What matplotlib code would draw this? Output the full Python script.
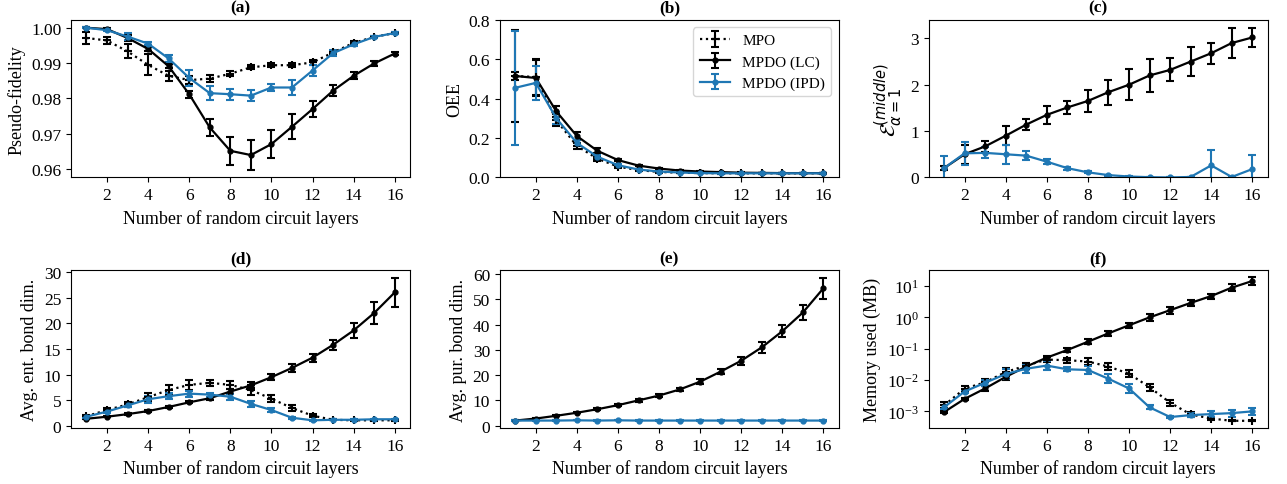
import numpy as np
import matplotlib
matplotlib.use("Agg")
import matplotlib.pyplot as plt

plt.rcParams['font.family'] = ['Liberation Serif', 'DejaVu Serif']
plt.rcParams['font.size'] = 12
plt.rcParams['xtick.labelsize'] = 12.5
plt.rcParams['ytick.labelsize'] = 12.5
plt.rcParams['axes.labelsize'] = 13
plt.rcParams['axes.titlesize'] = 12.5
plt.rcParams['legend.fontsize'] = 11

layers = np.arange(1, 17)

# (a) Pseudo-fidelity
fid_mpo = [0.9971, 0.9964, 0.9933, 0.9895, 0.9864, 0.9852, 0.9856, 0.9870, 0.9888, 0.9894, 0.9894, 0.9902, 0.9930, 0.9957, 0.9974, 0.9985]
fid_mpo_err = [0.0018, 0.0010, 0.0020, 0.0030, 0.0015, 0.0012, 0.0010, 0.0007, 0.0006, 0.0006, 0.0005, 0.0007, 0.0005, 0.0005, 0.0003, 0.0003]
fid_lc = [1.0000, 0.9996, 0.9971, 0.9940, 0.9891, 0.9812, 0.9718, 0.9652, 0.9640, 0.9671, 0.9720, 0.9770, 0.9822, 0.9864, 0.9899, 0.9927]
fid_lc_err = [0.0002, 0.0003, 0.0008, 0.0006, 0.0006, 0.0010, 0.0025, 0.0040, 0.0043, 0.0040, 0.0035, 0.0022, 0.0015, 0.0010, 0.0008, 0.0005]
fid_ipd = [1.0000, 0.9993, 0.9975, 0.9955, 0.9913, 0.9858, 0.9815, 0.9812, 0.9808, 0.9831, 0.9831, 0.9879, 0.9928, 0.9953, 0.9974, 0.9985]
fid_ipd_err = [0.0002, 0.0003, 0.0010, 0.0005, 0.0010, 0.0022, 0.0020, 0.0015, 0.0015, 0.0010, 0.0020, 0.0015, 0.0008, 0.0005, 0.0003, 0.0003]

# (b) OEE
oee_mpo = [0.515, 0.510, 0.290, 0.160, 0.095, 0.055, 0.037, 0.028, 0.024, 0.022, 0.021, 0.021, 0.021, 0.021, 0.021, 0.021]
oee_mpo_err = [0.235, 0.090, 0.030, 0.015, 0.010, 0.006, 0.004, 0.003, 0.002, 0.002, 0.002, 0.002, 0.002, 0.002, 0.002, 0.002]
oee_lc = [0.515, 0.505, 0.335, 0.210, 0.135, 0.088, 0.060, 0.045, 0.035, 0.030, 0.027, 0.024, 0.023, 0.022, 0.022, 0.022]
oee_lc_err = [0.020, 0.090, 0.030, 0.020, 0.012, 0.006, 0.004, 0.003, 0.003, 0.002, 0.002, 0.002, 0.002, 0.002, 0.002, 0.002]
oee_ipd = [0.455, 0.480, 0.300, 0.175, 0.105, 0.062, 0.040, 0.030, 0.025, 0.022, 0.021, 0.021, 0.021, 0.021, 0.021, 0.021]
oee_ipd_err = [0.290, 0.085, 0.030, 0.015, 0.010, 0.006, 0.004, 0.003, 0.002, 0.002, 0.002, 0.002, 0.002, 0.002, 0.002, 0.002]

# (c) entanglement entropy (middle)
ent_lc = [0.20, 0.50, 0.67, 0.90, 1.14, 1.35, 1.51, 1.65, 1.84, 2.00, 2.20, 2.32, 2.50, 2.68, 2.90, 3.02]
ent_lc_err = [0.05, 0.20, 0.12, 0.20, 0.12, 0.19, 0.14, 0.24, 0.27, 0.34, 0.35, 0.25, 0.31, 0.23, 0.33, 0.20]
ent_ipd = [0.20, 0.52, 0.53, 0.50, 0.47, 0.34, 0.20, 0.11, 0.05, 0.02, 0.005, 0.0, 0.01, 0.26, 0.01, 0.18]
ent_ipd_err = [0.27, 0.25, 0.12, 0.20, 0.10, 0.05, 0.03, 0.02, 0.01, 0.005, 0.002, 0.0, 0.005, 0.33, 0.005, 0.30]

# (d) average entanglement bond dimension
ebd_mpo = [1.9, 3.1, 4.2, 5.6, 7.0, 8.0, 8.4, 8.0, 7.0, 5.3, 3.5, 2.0, 1.2, 1.1, 1.1, 1.1]
ebd_mpo_err = [0.3, 0.4, 0.5, 0.8, 0.9, 1.0, 0.6, 0.8, 1.0, 0.7, 0.5, 0.3, 0.1, 0.1, 0.1, 0.1]
ebd_lc = [1.4, 1.8, 2.3, 2.9, 3.7, 4.6, 5.4, 6.7, 7.9, 9.5, 11.3, 13.3, 15.8, 18.6, 22.0, 26.0]
ebd_lc_err = [0.1, 0.1, 0.2, 0.2, 0.2, 0.2, 0.3, 0.4, 0.6, 0.6, 0.8, 0.8, 1.0, 1.4, 2.1, 2.9]
ebd_ipd = [1.8, 2.8, 4.0, 5.2, 5.8, 6.3, 6.1, 5.7, 4.3, 3.1, 1.6, 1.1, 1.2, 1.2, 1.3, 1.3]
ebd_ipd_err = [0.2, 0.3, 0.3, 0.7, 0.6, 0.6, 0.4, 0.6, 0.6, 0.4, 0.2, 0.1, 0.1, 0.1, 0.1, 0.1]

# (e) average purification bond dimension
pbd_lc = [2.0, 2.8, 3.9, 5.1, 6.5, 8.1, 10.0, 11.9, 14.3, 17.4, 21.4, 25.7, 31.0, 37.4, 44.8, 54.4]
pbd_lc_err = [0.1, 0.2, 0.2, 0.3, 0.3, 0.4, 0.5, 0.6, 0.7, 0.9, 1.1, 1.6, 2.2, 2.5, 3.1, 4.2]
pbd_ipd = [2.0, 2.0, 2.0, 2.1, 2.0, 2.1, 2.0, 2.0, 2.0, 2.0, 2.0, 2.0, 2.0, 2.0, 2.0, 2.0]
pbd_ipd_err = [0.05] * 16

# (f) memory used (MB)
mem_mpo = [1.55e-3, 5.3e-3, 8.5e-3, 1.8e-2, 2.9e-2, 4.5e-2, 4.3e-2, 3.9e-2, 2.7e-2, 1.6e-2, 5.9e-3, 1.9e-3, 8.0e-4, 5.9e-4, 5.0e-4, 5.0e-4]
mem_mpo_rel = [0.25, 0.2, 0.3, 0.3, 0.25, 0.2, 0.2, 0.25, 0.3, 0.3, 0.3, 0.25, 0.2, 0.1, 0.05, 0.05]
mem_lc = [9.5e-4, 2.5e-3, 5.4e-3, 1.26e-2, 2.7e-2, 5.2e-2, 9.1e-2, 0.167, 0.31, 0.56, 1.0, 1.7, 2.9, 4.8, 8.9, 14.5]
mem_lc_rel = [0.1, 0.1, 0.2, 0.25, 0.2, 0.15, 0.15, 0.2, 0.2, 0.2, 0.3, 0.3, 0.25, 0.2, 0.3, 0.35]
mem_ipd = [1.35e-3, 4.3e-3, 8.2e-3, 1.55e-2, 2.3e-2, 2.9e-2, 2.2e-2, 2.1e-2, 1.1e-2, 5.4e-3, 1.35e-3, 6.6e-4, 7.6e-4, 8.2e-4, 8.8e-4, 1.0e-3]
mem_ipd_rel = [0.15, 0.15, 0.25, 0.45, 0.35, 0.4, 0.15, 0.35, 0.4, 0.4, 0.15, 0.1, 0.15, 0.25, 0.3, 0.3]

BLUE = '#1f77b4'
xlabel = 'Number of random circuit layers'

fig, axes = plt.subplots(2, 3, figsize=(12.87, 4.85), dpi=100)
plt.subplots_adjust(left=0.0552, right=0.985, bottom=0.1155, top=0.957, wspace=0.2646, hspace=0.59)

ekw = dict(capsize=3, elinewidth=1.5, capthick=1.5, lw=1.6)


def plot_mpo(ax, y, e):
    return ax.errorbar(layers, y, yerr=e, color='black', ls=':', marker='+', ms=6, mew=1.5, label='MPO', **ekw)


def plot_lc(ax, y, e):
    return ax.errorbar(layers, y, yerr=e, color='black', ls='-', marker='.', ms=7, label='MPDO (LC)', **ekw)


def plot_ipd(ax, y, e):
    return ax.errorbar(layers, y, yerr=e, color=BLUE, ls='-', marker='.', ms=7, label='MPDO (IPD)', **ekw)


def mem_err(vals, rel):
    v = np.array(vals)
    r = np.array(rel)
    return np.vstack([v - v / (1 + r), v * r])


# (a)
ax = axes[0, 0]
plot_mpo(ax, fid_mpo, fid_mpo_err)
plot_lc(ax, fid_lc, fid_lc_err)
plot_ipd(ax, fid_ipd, fid_ipd_err)
ax.set_ylabel('Pseudo-fidelity')
ax.set_title('(a)', fontweight='bold')
ax.set_yticks([0.96, 0.97, 0.98, 0.99, 1.00])
ax.yaxis.set_major_formatter(matplotlib.ticker.FormatStrFormatter('%.2f'))

# (b)
ax = axes[0, 1]
plot_mpo(ax, oee_mpo, oee_mpo_err)
plot_lc(ax, oee_lc, oee_lc_err)
plot_ipd(ax, oee_ipd, oee_ipd_err)
ax.set_ylim(0, 0.8)
ax.set_ylabel('OEE')
ax.set_title('(b)', fontweight='bold')
ax.legend(loc='upper right')

# (c)
ax = axes[0, 2]
plot_lc(ax, ent_lc, ent_lc_err)
plot_ipd(ax, ent_ipd, ent_ipd_err)
ax.set_ylim(0, 3.4)
ax.set_yticks([0, 1, 2, 3])
ax.set_ylabel(r'$\mathcal{E}_{\alpha=1}^{(middle)}$', fontsize=15)
ax.set_title('(c)', fontweight='bold')

# (d)
ax = axes[1, 0]
plot_mpo(ax, ebd_mpo, ebd_mpo_err)
plot_lc(ax, ebd_lc, ebd_lc_err)
plot_ipd(ax, ebd_ipd, ebd_ipd_err)
ax.set_ylabel('Avg. ent. bond dim.')
ax.set_title('(d)', fontweight='bold')
ax.set_yticks([0, 5, 10, 15, 20, 25, 30])

# (e)
ax = axes[1, 1]
plot_lc(ax, pbd_lc, pbd_lc_err)
plot_ipd(ax, pbd_ipd, pbd_ipd_err)
ax.set_ylabel('Avg. pur. bond dim.')
ax.set_title('(e)', fontweight='bold')
ax.set_yticks([0, 10, 20, 30, 40, 50, 60])

# (f)
ax = axes[1, 2]
plot_mpo(ax, mem_mpo, mem_err(mem_mpo, mem_mpo_rel))
plot_lc(ax, mem_lc, mem_err(mem_lc, mem_lc_rel))
plot_ipd(ax, mem_ipd, mem_err(mem_ipd, mem_ipd_rel))
ax.set_yscale('log')
ax.set_ylim(10 ** -3.53, 10 ** 1.5)
ax.set_yticks([1e-3, 1e-2, 1e-1, 1e0, 1e1])
ax.yaxis.set_minor_locator(matplotlib.ticker.NullLocator())
ax.set_ylabel('Memory used (MB)')
ax.set_title('(f)', fontweight='bold')

for ax in axes.flat:
    ax.set_xticks([2, 4, 6, 8, 10, 12, 14, 16])
    ax.set_xlabel(xlabel)

fig.savefig('out.png', dpi=100)
